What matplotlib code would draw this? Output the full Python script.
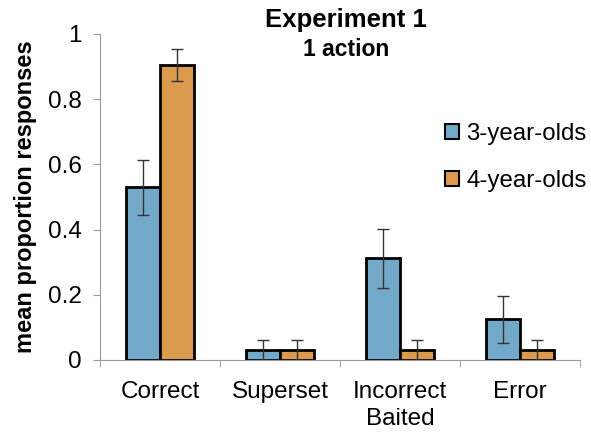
import matplotlib
matplotlib.use("Agg")
import matplotlib.pyplot as plt
import numpy as np

plt.rcParams['font.family'] = ['Liberation Sans', 'DejaVu Sans']

categories = ["Correct", "Superset", "Incorrect\nBaited", "Error"]
series_names = ["3-year-olds", "4-year-olds"]
vals_3yo = [0.53, 0.031, 0.312, 0.125]
err_3yo = [0.085, 0.031, 0.09, 0.072]
vals_4yo = [0.905, 0.031, 0.031, 0.031]
err_4yo = [0.05, 0.031, 0.031, 0.031]
colors = ["#73A9C8", "#DC9A4F"]

fig = plt.figure(figsize=(5.91, 4.32), dpi=100)
ax = fig.add_axes([100/591, 1-360/432, 480/591, 326/432])

x = np.arange(len(categories))
w = 0.285
ax.bar(x - w/2, vals_3yo, w, color=colors[0], edgecolor="black", linewidth=2,
       yerr=err_3yo, error_kw=dict(ecolor="#333333", elinewidth=1, capsize=4, capthick=1),
       label=series_names[0], zorder=2)
ax.bar(x + w/2, vals_4yo, w, color=colors[1], edgecolor="black", linewidth=2,
       yerr=err_4yo, error_kw=dict(ecolor="#333333", elinewidth=1, capsize=4, capthick=1),
       label=series_names[1], zorder=2)

ax.set_xlim(-0.5, len(categories) - 0.5)
ax.set_ylim(0, 1)
ax.set_yticks([0, 0.2, 0.4, 0.6, 0.8, 1.0])
ax.set_yticklabels(["0", "0.2", "0.4", "0.6", "0.8", "1"])
ax.set_xticks(x)
ax.set_xticklabels(categories, linespacing=1.3)
ax.set_xticks(np.arange(-0.5, len(categories), 1), minor=True)
ax.tick_params(axis='x', which='major', length=0, labelsize=17.5, pad=15)
ax.tick_params(axis='x', which='minor', length=5, color="#999999", direction='out')
ax.tick_params(axis='y', length=5, color="#999999", labelsize=17.5, direction='out', pad=8)
for s in ["top", "right"]:
    ax.spines[s].set_visible(False)
ax.spines["left"].set_color("#999999")
ax.spines["bottom"].set_color("#999999")
ax.set_ylabel("mean proportion responses", fontsize=17, fontweight="bold", labelpad=8)

fig.text(346/591, 1-20/432, "Experiment 1", ha="center", va="center", fontsize=18.5, fontweight="bold")
fig.text(346/591, 1-50/432, "1 action", ha="center", va="center", fontsize=16.5, fontweight="bold")

leg = ax.legend(loc="upper left", bbox_to_anchor=(445/591, 1-123/432), bbox_transform=fig.transFigure,
                frameon=False, fontsize=17.3, handlelength=0.6, handleheight=0.6, handletextpad=0.3,
                labelspacing=1.05, borderaxespad=0, borderpad=0)
for p in leg.get_patches():
    p.set_linewidth(1.5)

fig.savefig("out.png", dpi=100)
